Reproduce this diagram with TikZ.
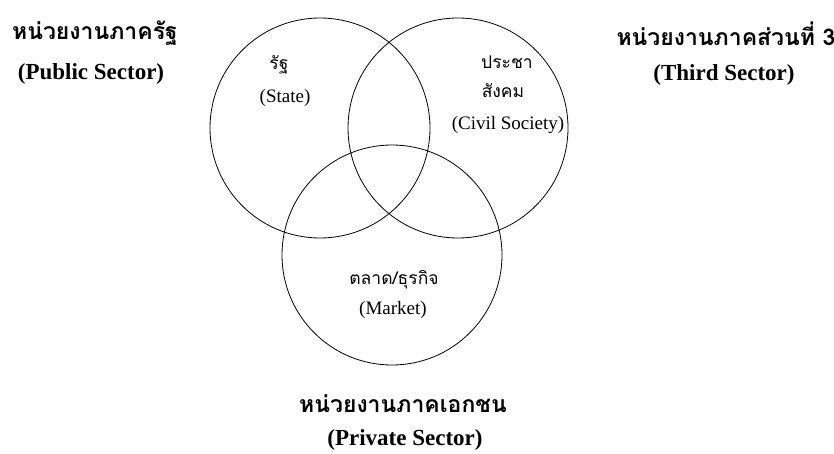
\documentclass[tikz,border=0pt]{standalone}
\usepackage{fontspec}
\setmainfont{Liberation Serif}
\newfontfamily\thai[Script=Thai]{Loma}
\begin{document}
\begin{tikzpicture}[x=1pt,y=-1pt,
  ring/.style={draw,circle,line width=0.8pt,minimum size=220pt,inner sep=0pt},
  headth/.style={font=\thai\bfseries\fontsize{23}{25}\selectfont,inner sep=0pt},
  headen/.style={font=\bfseries\fontsize{23}{25}\selectfont,inner sep=0pt},
  labth/.style={font=\thai\fontsize{17.5}{19}\selectfont,inner sep=0pt},
  laben/.style={font=\fontsize{19}{21}\selectfont,inner sep=0pt}]
\useasboundingbox (0,0) rectangle (834,454);
\node[ring] (state) at (320,128) {};
\node[ring] (civil) at (458,128) {};
\node[ring] (market) at (392,255) {};
\node[headth] (pubth) at (95,33) {หน่วยงานภาครัฐ};
\node[headen] (puben) at (91,74) {(Public Sector)};
\node[headth] (thirdth) at (726,34) {หน่วยงานภาคส่วนที่ 3};
\node[headen] (thirden) at (724,75) {(Third Sector)};
\node[labth] (stateth) at (279,65) {รัฐ};
\node[laben] (stateen) at (285,98) {(State)};
\node[labth] (civilth1) at (507,62) {ประชา};
\node[labth] (civilth2) at (503,91) {สังคม};
\node[laben] (civilen) at (508,125) {(Civil Society)};
\node[labth] (marketth) at (394,280) {ตลาด/ธุรกิจ};
\node[laben] (marketen) at (393,310) {(Market)};
\node[headth] (privth) at (403,404) {หน่วยงานภาคเอกชน};
\node[headen] (priven) at (405,440) {(Private Sector)};
\end{tikzpicture}
\end{document}
